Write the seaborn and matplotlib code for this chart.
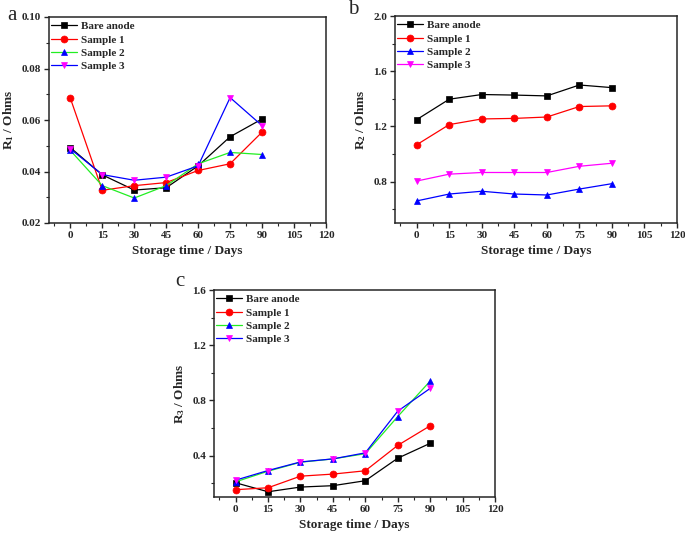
import matplotlib
matplotlib.use("Agg")
import matplotlib.pyplot as plt
import seaborn as sns
import numpy as np
from matplotlib.ticker import MultipleLocator

days = [0, 15, 30, 45, 60, 75, 90]
series_names = ["Bare anode", "Sample 1", "Sample 2", "Sample 3"]

# Panel a: R1
r1_bare = [0.0493, 0.0387, 0.0328, 0.0337, 0.0422, 0.0535, 0.0604]
r1_s1 = [0.0685, 0.0327, 0.0345, 0.0357, 0.0404, 0.0430, 0.0553]
r1_s2 = [0.0482, 0.0345, 0.0297, 0.0345, 0.0430, 0.0474, 0.0466]
r1_s3 = [0.0488, 0.0388, 0.0366, 0.0378, 0.0422, 0.0687, 0.0578]

# Panel b: R2
r2_bare = [1.249, 1.397, 1.431, 1.427, 1.421, 1.500, 1.481]
r2_s1 = [1.067, 1.213, 1.254, 1.258, 1.268, 1.344, 1.349]
r2_s2 = [0.660, 0.710, 0.730, 0.710, 0.703, 0.746, 0.785]
r2_s3 = [0.804, 0.854, 0.866, 0.866, 0.866, 0.911, 0.933]

# Panel c: R3
r3_bare = [0.203, 0.138, 0.172, 0.182, 0.218, 0.381, 0.489]
r3_s1 = [0.153, 0.167, 0.251, 0.266, 0.290, 0.474, 0.616]
r3_s2 = [0.210, 0.287, 0.352, 0.376, 0.414, 0.683, 0.940]
r3_s3 = [0.222, 0.292, 0.354, 0.376, 0.420, 0.722, 0.887]

x_ticks = [0, 15, 30, 45, 60, 75, 90, 105, 120]

markers = ["s", "o", "^", "v"]
marker_colors = ["#000000", "#ff0000", "#0000ff", "#ff00ff"]
line_colors_ac = ["#000000", "#ff0000", "#22ee22", "#0000ff"]
line_colors_b = ["#000000", "#ff0000", "#0000ff", "#ff00ff"]

sns.set_style("ticks")
plt.rcParams["font.family"] = ["Liberation Serif", "DejaVu Serif"]
plt.rcParams["font.weight"] = "bold"
plt.rcParams["axes.linewidth"] = 1.1
plt.rcParams["mathtext.fontset"] = "custom"
plt.rcParams["mathtext.rm"] = "Liberation Serif:bold"
plt.rcParams["mathtext.bf"] = "Liberation Serif:bold"
plt.rcParams["mathtext.it"] = "Liberation Serif:bold"

fig = plt.figure(figsize=(6.85, 5.34), dpi=100)
ax_a = fig.add_axes([49/685, 1-223/534, (326-49)/685, (223-17)/534])
ax_b = fig.add_axes([395/685, 1-223/534, (677-395)/685, (223-16)/534])
ax_c = fig.add_axes([214/685, 1-497/534, (495-214)/685, (497-290)/534])

panels = [
    (ax_a, [r1_bare, r1_s1, r1_s2, r1_s3], line_colors_ac, (0.02, 0.10), 0.02, 0.01, "R$_\\mathrm{1}$ / Ohms", "%.2f"),
    (ax_b, [r2_bare, r2_s1, r2_s2, r2_s3], line_colors_b, (0.5, 2.0), 0.4, 0.2, "R$_\\mathrm{2}$ / Ohms", "%.1f"),
    (ax_c, [r3_bare, r3_s1, r3_s2, r3_s3], line_colors_ac, (0.1, 1.6), 0.4, 0.2, "R$_\\mathrm{3}$ / Ohms", "%.1f"),
]

for ax, ys, lcols, ylim, major, minor, ylab, fmt in panels:
    for name, y, m, lc, mc in zip(series_names, ys, markers, lcols, marker_colors):
        sns.lineplot(x=days, y=y, ax=ax, color=lc, marker=m, markersize=5,
                     markerfacecolor=mc, markeredgecolor=mc, markeredgewidth=0.5,
                     linewidth=0.9, label=name)
    ax.set_xlim(-10, 120)
    ax.set_ylim(*ylim)
    ax.set_xticks(x_ticks)
    ax.xaxis.set_minor_locator(MultipleLocator(7.5))
    ax.yaxis.set_major_locator(MultipleLocator(major))
    ax.yaxis.set_minor_locator(MultipleLocator(minor))
    ax.yaxis.set_major_formatter(matplotlib.ticker.FormatStrFormatter(fmt))
    ax.tick_params(axis="both", which="major", direction="out", length=3.5, width=1,
                   labelsize=8, pad=2)
    ax.tick_params(axis="both", which="minor", direction="out", length=2, width=0.8)
    for lbl in ax.get_xticklabels() + ax.get_yticklabels():
        lbl.set_fontweight("bold")
    ax.set_xlabel("Storage time / Days", fontsize=9.5, fontweight="bold", labelpad=4)
    ax.set_ylabel(ylab, fontsize=9.5, fontweight="bold", labelpad=4)
    for sp in ax.spines.values():
        sp.set_visible(True)
        sp.set_linewidth(1.1)
    ax.legend(loc="upper left", bbox_to_anchor=(-0.01, 1.0), frameon=False,
              prop={"size": 8, "weight": "bold"}, handlelength=2.4,
              handletextpad=0.3, labelspacing=0.32, borderaxespad=0.2,
              borderpad=0.2)

fig.text(12/685, 1-15/534, "a", fontsize=15, fontweight="normal", ha="center", va="center")
fig.text(353/685, 1-9/534, "b", fontsize=15, fontweight="normal", ha="center", va="center")
fig.text(180/685, 1-282/534, "c", fontsize=15, fontweight="normal", ha="center", va="center")

fig.savefig("out.png", dpi=100)
